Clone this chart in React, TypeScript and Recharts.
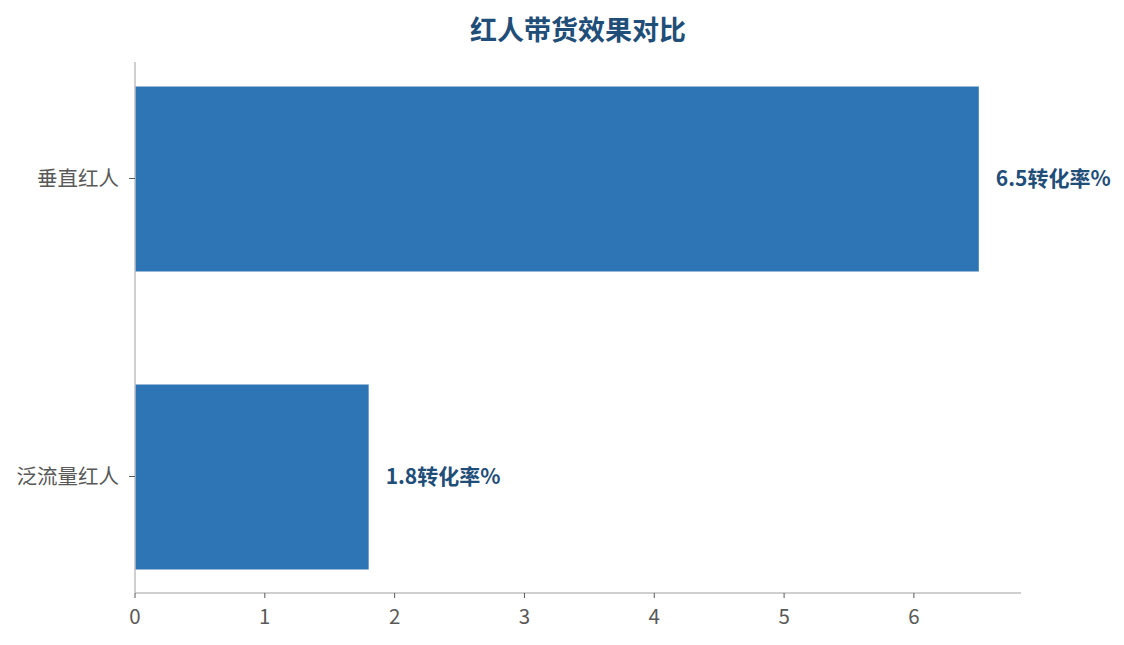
import React from 'react';
import { BarChart, Bar, XAxis, YAxis, LabelList } from 'recharts';

const categories = ['垂直红人', '泛流量红人'];
const conversion = [6.5, 1.8];
const xTicks = [0, 1, 2, 3, 4, 5, 6];

const BAR_COLOR = '#2e75b6';
const LABEL_COLOR = '#1f4e79';
const AXIS_COLOR = '#bfbfbf';
const TEXT_COLOR = '#595959';
const FONT = '"Noto Sans CJK SC", "Noto Sans", sans-serif';

const data = categories.map((name, i) => ({ name, value: conversion[i] }));

export default function App() {
    return (
        <div style={{ position: 'absolute', left: 0, top: 0, width: 1124, height: 645, background: '#fff', fontFamily: FONT }}>
            <div style={{
                position: 'absolute', left: 135, width: 886, top: 7, lineHeight: '44px',
                textAlign: 'center', fontSize: 27, fontWeight: 'bold', color: LABEL_COLOR
            }}>
                红人带货效果对比
            </div>
            <BarChart
                width={1124}
                height={645}
                data={data}
                layout="vertical"
                margin={{ top: 62, right: 103, bottom: 0, left: 0 }}
            >
                <XAxis
                    type="number"
                    domain={[0, 6.825]}
                    ticks={xTicks}
                    height={52}
                    axisLine={{ stroke: AXIS_COLOR, strokeWidth: 1.5 }}
                    tickLine={{ stroke: TEXT_COLOR }}
                    tickSize={5}
                    tickMargin={11}
                    tick={{ fill: TEXT_COLOR, fontSize: 20.5, fontFamily: FONT }}
                />
                <YAxis
                    type="category"
                    dataKey="name"
                    width={135}
                    padding={{ top: -32.5, bottom: -32.5 }}
                    axisLine={{ stroke: AXIS_COLOR, strokeWidth: 1.5 }}
                    tickLine={{ stroke: TEXT_COLOR }}
                    tickSize={6}
                    tickMargin={10}
                    tick={{ fill: TEXT_COLOR, fontSize: 20.5, fontFamily: FONT }}
                />
                <Bar dataKey="value" fill={BAR_COLOR} barSize={185} isAnimationActive={false}>
                    <LabelList
                        dataKey="value"
                        position="right"
                        offset={17}
                        formatter={(v: any) => `${v}转化率%`}
                        style={{ fill: LABEL_COLOR, fontSize: 21, fontWeight: 'bold', fontFamily: FONT }}
                    />
                </Bar>
            </BarChart>
        </div>
    );
}
